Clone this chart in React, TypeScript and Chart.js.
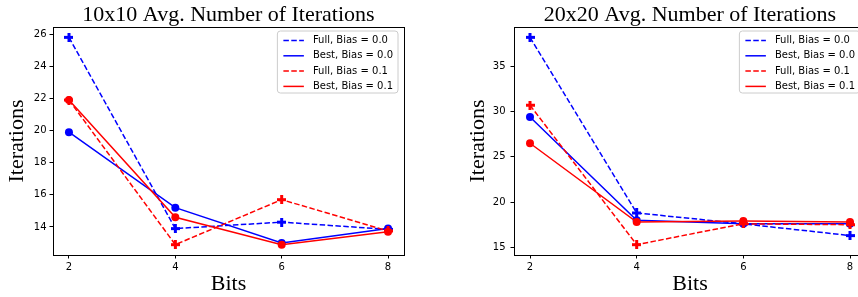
import React, { useEffect, useRef } from "react";
import { Chart, registerables } from "chart.js";
Chart.register(...registerables);

const bits = [2, 4, 6, 8];
const xTicks = [2, 4, 6, 8];
const seriesLabels = ["Full, Bias = 0.0", "Best, Bias = 0.0", "Full, Bias = 0.1", "Best, Bias = 0.1"];

const full00_10 = [25.8, 13.9, 14.3, 13.85];
const best00_10 = [19.9, 15.2, 13.0, 13.9];
const full01_10 = [21.9, 12.9, 15.7, 13.75];
const best01_10 = [21.9, 14.6, 12.9, 13.7];
const yTicks10 = [14, 16, 18, 20, 22, 24, 26];

const full00_20 = [38.2, 18.8, 17.6, 16.3];
const best00_20 = [29.4, 18.0, 17.6, 17.6];
const full01_20 = [30.7, 15.3, 17.6, 17.5];
const best01_20 = [26.5, 17.8, 17.9, 17.8];
const yTicks20 = [15, 20, 25, 30, 35];

const BLUE = "#0000ff";
const RED = "#ff0000";
const SERIF = "'Liberation Serif', 'Times New Roman', serif";
const SANS = "'DejaVu Sans', sans-serif";

function plusMarker(color: string) {
  const c = document.createElement("canvas");
  c.width = 9;
  c.height = 9;
  const g = c.getContext("2d")!;
  g.fillStyle = color;
  g.fillRect(3, 0, 3, 9);
  g.fillRect(0, 3, 9, 3);
  return c;
}

type PanelProps = {
  title: string;
  series: number[][];
  yTicks: number[];
  left: number;
  width: number;
  axisWidth: number;
  padRight: number;
  yTitlePad: number;
  yTickPad: number;
};

function Panel(p: PanelProps) {
  const ref = useRef<HTMLCanvasElement | null>(null);
  useEffect(() => {
    const canvas = ref.current!;
    const all = p.series.flat();
    const lo = Math.min(...all);
    const hi = Math.max(...all);
    const m = (hi - lo) * 0.05;
    const colors = [BLUE, BLUE, RED, RED];
    const isFull = [true, false, true, false];
    const datasets = p.series.map((vals, i) => ({
      label: seriesLabels[i],
      data: bits.map((b, j) => ({ x: b, y: vals[j] })),
      borderColor: colors[i],
      backgroundColor: colors[i],
      borderWidth: 1.5,
      borderDash: isFull[i] ? [5.5, 2.4] : [],
      pointStyle: isFull[i] ? plusMarker(colors[i]) : "circle",
      pointRadius: 4,
      pointBorderWidth: 0,
      pointBackgroundColor: colors[i],
      tension: 0,
      fill: false,
      order: 3 - i,
    }));

    const framePlugin = {
      id: "frameLegendTitle",
      afterDatasetsDraw(chart: any) {
        const { ctx, chartArea: a } = chart;
        ctx.save();
        ctx.strokeStyle = "#000";
        ctx.lineWidth = 1;
        ctx.strokeRect(Math.round(a.left) + 0.5, Math.round(a.top) + 0.5, Math.round(a.right - a.left), Math.round(a.bottom - a.top));

        // title
        ctx.fillStyle = "#000";
        ctx.font = `22px ${SERIF}`;
        ctx.textAlign = "center";
        ctx.textBaseline = "alphabetic";
        ctx.fillText(p.title, (a.left + a.right) / 2, 21);

        // legend
        ctx.font = `10px ${SANS}`;
        let tw = 0;
        seriesLabels.forEach((s) => (tw = Math.max(tw, ctx.measureText(s).width)));
        const w = 6 + 20.5 + 9 + tw + 5;
        const h = 62;
        const right = a.right - 6;
        const lx = right - w;
        const ty = a.top + 4;
        ctx.beginPath();
        const r = 3;
        ctx.moveTo(lx + r, ty);
        ctx.lineTo(lx + w - r, ty);
        ctx.quadraticCurveTo(lx + w, ty, lx + w, ty + r);
        ctx.lineTo(lx + w, ty + h - r);
        ctx.quadraticCurveTo(lx + w, ty + h, lx + w - r, ty + h);
        ctx.lineTo(lx + r, ty + h);
        ctx.quadraticCurveTo(lx, ty + h, lx, ty + h - r);
        ctx.lineTo(lx, ty + r);
        ctx.quadraticCurveTo(lx, ty, lx + r, ty);
        ctx.closePath();
        ctx.fillStyle = "rgba(255,255,255,0.8)";
        ctx.fill();
        ctx.strokeStyle = "#cccccc";
        ctx.lineWidth = 1;
        ctx.stroke();
        seriesLabels.forEach((s, i) => {
          const cy = ty + 9.5 + i * 15.3;
          ctx.beginPath();
          ctx.strokeStyle = colors[i];
          ctx.lineWidth = 1.5;
          ctx.setLineDash(isFull[i] ? [5.5, 2.4] : []);
          ctx.moveTo(lx + 6, cy);
          ctx.lineTo(lx + 26.5, cy);
          ctx.stroke();
          ctx.setLineDash([]);
          ctx.fillStyle = "#000";
          ctx.textAlign = "left";
          ctx.textBaseline = "middle";
          ctx.fillText(s, lx + 35.5, cy);
        });
        ctx.restore();
      },
    };

    const tickFont = { family: SANS, size: 10 };
    const grid = { drawOnChartArea: false, drawTicks: true, tickLength: 3.5, color: "#000", lineWidth: 1 };

    const chart = new Chart(canvas, {
      type: "line",
      data: { datasets: datasets as any },
      options: {
        responsive: false,
        animation: false,
        devicePixelRatio: 1,
        layout: { padding: { top: 27, right: p.padRight, left: 0, bottom: 0 } },
        plugins: { legend: { display: false }, tooltip: { enabled: false }, title: { display: false } },
        scales: {
          x: {
            type: "linear",
            min: 1.7,
            max: 8.3,
            afterBuildTicks: (s: any) => {
              s.ticks = xTicks.map((v) => ({ value: v }));
            },
            afterFit: (s: any) => {
              s.height = 42;
            },
            ticks: { font: tickFont, color: "#000", padding: 3, maxRotation: 0, callback: (v: any) => String(v) },
            grid,
            border: { display: false },
            title: { display: true, text: "Bits", font: { family: SERIF, size: 22 }, color: "#000", padding: { top: 0, bottom: 0 } },
          },
          y: {
            type: "linear",
            min: lo - m,
            max: hi + m,
            afterBuildTicks: (s: any) => {
              s.ticks = p.yTicks.map((v) => ({ value: v }));
            },
            afterFit: (s: any) => {
              s.width = p.axisWidth;
            },
            ticks: { font: tickFont, color: "#000", padding: p.yTickPad, callback: (v: any) => String(v) },
            grid,
            border: { display: false },
            title: { display: true, text: "Iterations", font: { family: SERIF, size: 22 }, color: "#000", padding: { top: p.yTitlePad, bottom: 0 } },
          },
        },
      },
      plugins: [framePlugin],
    });
    return () => chart.destroy();
  }, []);
  return (
    <canvas
      ref={ref}
      width={p.width}
      height={297}
      style={{ position: "absolute", left: p.left, top: 0, width: p.width, height: 297 }}
    />
  );
}

export default function App() {
  return (
    <div style={{ position: "fixed", left: 0, top: 0, width: 858, height: 297, overflow: "hidden", background: "#fff" }}>
      <Panel
        title="10x10 Avg. Number of Iterations"
        series={[full00_10, best00_10, full01_10, best01_10]}
        yTicks={yTicks10}
        left={0}
        width={430}
        axisWidth={53}
        padRight={26}
        yTitlePad={4}
        yTickPad={3}
      />
      <Panel
        title="20x20 Avg. Number of Iterations"
        series={[full00_20, best00_20, full01_20, best01_20]}
        yTicks={yTicks20}
        left={430}
        width={450}
        axisWidth={84}
        padRight={14}
        yTitlePad={35}
        yTickPad={5}
      />
    </div>
  );
}
